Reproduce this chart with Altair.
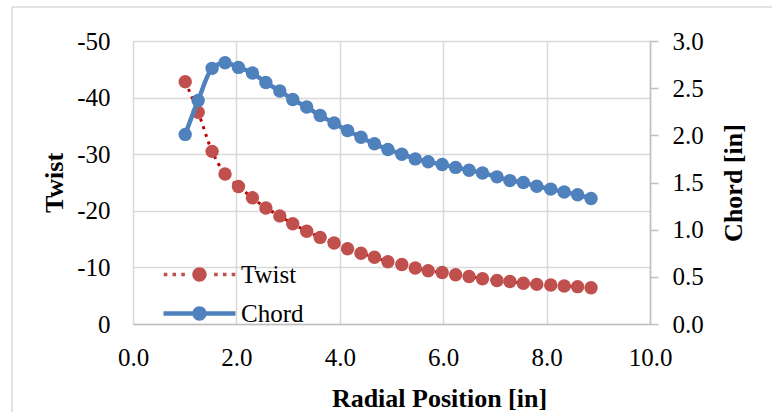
import altair as alt
import pandas as pd

# ---- data ----
radial = [1.01, 1.26, 1.53, 1.78, 2.04, 2.31, 2.57, 2.84, 3.09, 3.36, 3.62, 3.89, 4.15,
          4.41, 4.67, 4.93, 5.20, 5.46, 5.71, 5.98, 6.24, 6.50, 6.76, 7.04, 7.29, 7.55,
          7.81, 8.08, 8.34, 8.60, 8.86]
twist = [-42.8, -37.4, -30.5, -26.5, -24.3, -22.3, -20.5, -19.1, -17.7, -16.4, -15.3,
         -14.3, -13.3, -12.5, -11.8, -11.0, -10.5, -9.9, -9.4, -9.1, -8.7, -8.4, -8.0,
         -7.7, -7.5, -7.2, -7.0, -6.9, -6.7, -6.6, -6.4]
chord = [2.01, 2.37, 2.71, 2.77, 2.72, 2.66, 2.56, 2.47, 2.38, 2.30, 2.21, 2.13, 2.05,
         1.98, 1.91, 1.85, 1.80, 1.75, 1.72, 1.69, 1.66, 1.63, 1.60, 1.56, 1.52, 1.50,
         1.46, 1.43, 1.40, 1.37, 1.33]
series_names = ["Twist", "Chord"]
x_ticks = [0, 2, 4, 6, 8, 10]
twist_ticks = [0, -10, -20, -30, -40, -50]
chord_ticks = [0, 0.5, 1.0, 1.5, 2.0, 2.5, 3.0]

df_t = pd.DataFrame({"r": radial, "twist": twist})
df_c = pd.DataFrame({"r": radial, "chord": chord})
df_leg = pd.DataFrame({"series": series_names})

FONT = "Liberation Serif"
GRID = "#d9d9d9"
AXC = "#bfbfbf"
RED_LINE = "#C00000"
RED_PT = "#C0504D"
BLUE = "#4F81BD"


def circle(r):
    return f"M{-r},0A{r},{r},0,1,1,{r},0A{r},{r},0,1,1,{-r},0Z"


def rect(x0, x1, h):
    return f"M{x0},{-h}L{x1},{-h}L{x1},{h}L{x0},{h}Z"


# legend glyphs (unit = 12 px): dotted line + marker, solid line + marker
dot_centres = [-2.83, -2.1, -1.37, 1.37, 2.1, 2.83]
twist_glyph = "".join(rect(c - 0.15, c + 0.15, 0.15) for c in dot_centres) + circle(0.6)
chord_glyph = rect(-3, -0.5, 0.19) + rect(0.5, 3, 0.19) + circle(0.6)

legend = alt.Legend(
    title=None,
    orient="none",
    legendX=54,
    legendY=221,
    direction="vertical",
    padding=0,
    symbolSize=576,
    symbolOpacity=1,
    symbolStrokeWidth=0,
    labelFont=FONT,
    labelFontSize=25,
    labelColor="black",
    labelOffset=29,
    rowPadding=13,
)

x_enc = alt.X(
    "r:Q",
    scale=alt.Scale(domain=[0, 10], nice=False),
    axis=alt.Axis(
        values=x_ticks, format=".1f", title="Radial Position [in]",
        grid=True, gridColor=GRID, gridWidth=1.5,
        domainColor=AXC, domainWidth=1.5, ticks=False, tickSize=0,
        labelPadding=21, labelFont=FONT, labelFontSize=25, labelColor="black",
        labelFlush=False, labelOverlap=False,
        titleFont=FONT, titleFontSize=26, titleFontWeight="bold", titleColor="black",
        titleX=306, titleY=82, titleBaseline="alphabetic", titleAlign="center",
    ),
)

twist_y = alt.Y(
    "twist:Q",
    scale=alt.Scale(domain=[0, -50], nice=False, zero=False),
    axis=alt.Axis(
        values=twist_ticks, labelExpr="'' + datum.value", title="Twist",
        grid=True, gridColor=GRID, gridWidth=1.5, domain=False,
        ticks=False, tickSize=0, labelPadding=23,
        labelFont=FONT, labelFontSize=25, labelColor="black", labelFlush=False,
        titleFont=FONT, titleFontSize=26, titleFontWeight="bold", titleColor="black",
        titleAngle=270, titleX=-71, titleY=141.5, titleBaseline="alphabetic",
        titleAlign="center",
    ),
)

chord_y = alt.Y(
    "chord:Q",
    scale=alt.Scale(domain=[0, 3], nice=False),
    axis=alt.Axis(
        orient="right", values=chord_ticks, format=".1f", title="Chord [in]",
        grid=False, domainColor=AXC, domainWidth=1.5,
        ticks=True, tickColor=AXC, tickWidth=1.5, tickSize=8, labelPadding=14,
        labelFont=FONT, labelFontSize=25, labelColor="black", labelFlush=False,
        titleFont=FONT, titleFontSize=26, titleFontWeight="bold", titleColor="black",
        titleAngle=270, titleX=91, titleY=141.5, titleBaseline="alphabetic",
        titleAlign="center",
    ),
)

one = alt.Data(values=[{}])
border_top = alt.Chart(one).mark_rule(color=GRID, strokeWidth=1.5).encode(
    x=alt.value(-121), x2=alt.value(700), y=alt.value(-34)
)
border_left = alt.Chart(one).mark_rule(color=GRID, strokeWidth=1.5).encode(
    x=alt.value(-121), y=alt.value(-34), y2=alt.value(400)
)

twist_line = alt.Chart(df_t).mark_line(
    color=RED_LINE, strokeWidth=3, strokeDash=[3, 5], interpolate="monotone"
).encode(x=x_enc, y=twist_y)
twist_pts = alt.Chart(df_t).mark_circle(color=RED_PT, size=180, opacity=1).encode(
    x="r:Q", y="twist:Q"
)
legend_layer = alt.Chart(df_leg).mark_point(filled=True, opacity=0).encode(
    color=alt.Color("series:N", scale=alt.Scale(domain=series_names, range=[RED_PT, BLUE]),
                    legend=legend),
    shape=alt.Shape("series:N", scale=alt.Scale(domain=series_names,
                                                range=[twist_glyph, chord_glyph]),
                    legend=legend),
)

chord_line = alt.Chart(df_c).mark_line(
    color=BLUE, strokeWidth=4.5, interpolate="monotone"
).encode(x="r:Q", y=chord_y)
chord_pts = alt.Chart(df_c).mark_circle(color=BLUE, size=180, opacity=1).encode(
    x="r:Q", y="chord:Q"
)

left_layer = alt.layer(border_top, border_left, twist_line, twist_pts, legend_layer)
right_layer = alt.layer(chord_line, chord_pts)

chart = (
    alt.layer(left_layer, right_layer)
    .resolve_scale(y="independent")
    .properties(
        width=517,
        height=283,
        padding={"left": 133, "top": 41, "right": 122, "bottom": 88},
        autosize=alt.AutoSizeParams(type="none"),
        background="white",
    )
    .configure_view(stroke=None)
    .configure_legend(labelFont=FONT, labelFontSize=25, labelColor="black")
    .configure(font=FONT)
)

chart.save("out.html", embed_options={"renderer": "svg", "actions": False})
